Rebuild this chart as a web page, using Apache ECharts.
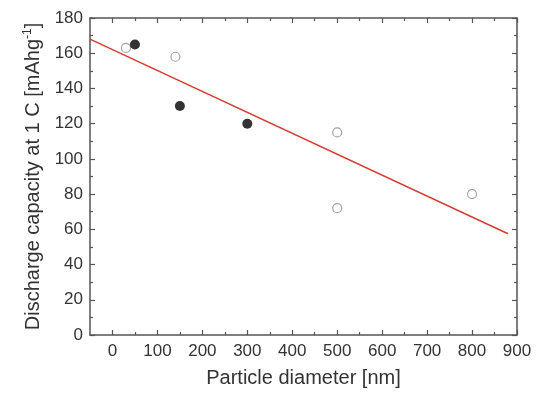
<!DOCTYPE html>
<html>
<head>
<meta charset="utf-8">
<script src="https://cdn.jsdelivr.net/npm/echarts@6/dist/echarts.min.js"></script>
<style>
  html,body{margin:0;padding:0;background:#fff;}
  #chart{width:546px;height:398px;}
</style>
</head>
<body>
<div id="chart"></div>
<script>
// data
const filledX = [50, 150, 300]
const filledY = [165, 130, 120]
const openX = [30, 140, 500, 500, 800]
const openY = [163, 158, 115, 72, 80]
// fitted red line, end points
const fitX = [-50, 880]
const fitY = [168, 57.5]
// axis ticks
const xMajor = [0, 100, 200, 300, 400, 500, 600, 700, 800, 900]
const xMinor = [50, 150, 250, 350, 450, 550, 650, 750, 850]

const axisColor = '#555'
const textColor = '#333'
const font = 'Liberation Sans'

const chart = echarts.init(document.getElementById('chart'))

// one x axis, same range every time, only what is shown changes
function xAxisOf(position, ticks, len, showLine, showLabel){
  return {
    type: 'value', position: position, min: -50, max: 900,
    axisLine: {show: showLine, onZero: false, lineStyle: {color: axisColor, width: 1.5}},
    axisTick: {show: true, inside: true, length: len, customValues: ticks,
      lineStyle: {color: axisColor, width: 1.2}},
    axisLabel: {show: showLabel, customValues: xMajor, color: textColor,
      fontFamily: font, fontSize: 17, margin: 8},
    splitLine: {show: false}
  }
}

const bottom = xAxisOf('bottom', xMajor, 5, true, true)
bottom.name = 'Particle diameter [nm]'
bottom.nameLocation = 'middle'
bottom.nameGap = 33
bottom.nameTextStyle = {color: textColor, fontFamily: font, fontSize: 20}

const option = {
  animation: false,
  backgroundColor: '#fff',
  grid: {left: 90, right: 29, top: 18, bottom: 63},
  xAxis: [
    bottom,
    xAxisOf('bottom', xMinor, 3, false, false),
    xAxisOf('top', xMajor, 5, true, false),
    xAxisOf('top', xMinor, 3, false, false)
  ],
  yAxis: [
    {
      type: 'value', position: 'left', min: 0, max: 180, interval: 20,
      name: 'Discharge capacity at 1 C [mAhg{sup|-1}]',
      nameLocation: 'middle', nameGap: 46,
      nameTextStyle: {color: textColor, fontFamily: font, fontSize: 20,
        rich: {sup: {fontSize: 12, fontFamily: font, color: textColor, padding: [0, 0, 10, 0]}}},
      axisLine: {show: true, onZero: false, lineStyle: {color: axisColor, width: 1.5}},
      axisTick: {show: true, inside: true, length: 5, lineStyle: {color: axisColor, width: 1.2}},
      minorTick: {show: true, splitNumber: 2, length: 3, lineStyle: {color: axisColor, width: 1.2}},
      axisLabel: {color: textColor, fontFamily: font, fontSize: 17, margin: 7},
      splitLine: {show: false}
    },
    {
      type: 'value', position: 'right', min: 0, max: 180, interval: 20,
      axisLine: {show: true, onZero: false, lineStyle: {color: axisColor, width: 1.5}},
      axisTick: {show: true, inside: true, length: 5, lineStyle: {color: axisColor, width: 1.2}},
      minorTick: {show: true, splitNumber: 2, length: 3, lineStyle: {color: axisColor, width: 1.2}},
      axisLabel: {show: false},
      splitLine: {show: false}
    }
  ],
  series: [
    {
      type: 'line',
      data: fitX.map((x, i) => [x, fitY[i]]),
      showSymbol: false, symbol: 'none',
      lineStyle: {color: '#d63c34', width: 1.5},
      z: 1
    },
    {
      type: 'scatter',
      data: openX.map((x, i) => [x, openY[i]]),
      symbolSize: 9,
      itemStyle: {color: '#fff', borderColor: '#8c8c8c', borderWidth: 1.2},
      z: 3
    },
    {
      type: 'scatter',
      data: filledX.map((x, i) => [x, filledY[i]]),
      symbolSize: 10,
      itemStyle: {color: '#000'},
      z: 4
    }
  ]
}
chart.setOption(option)
</script>
</body>
</html>
